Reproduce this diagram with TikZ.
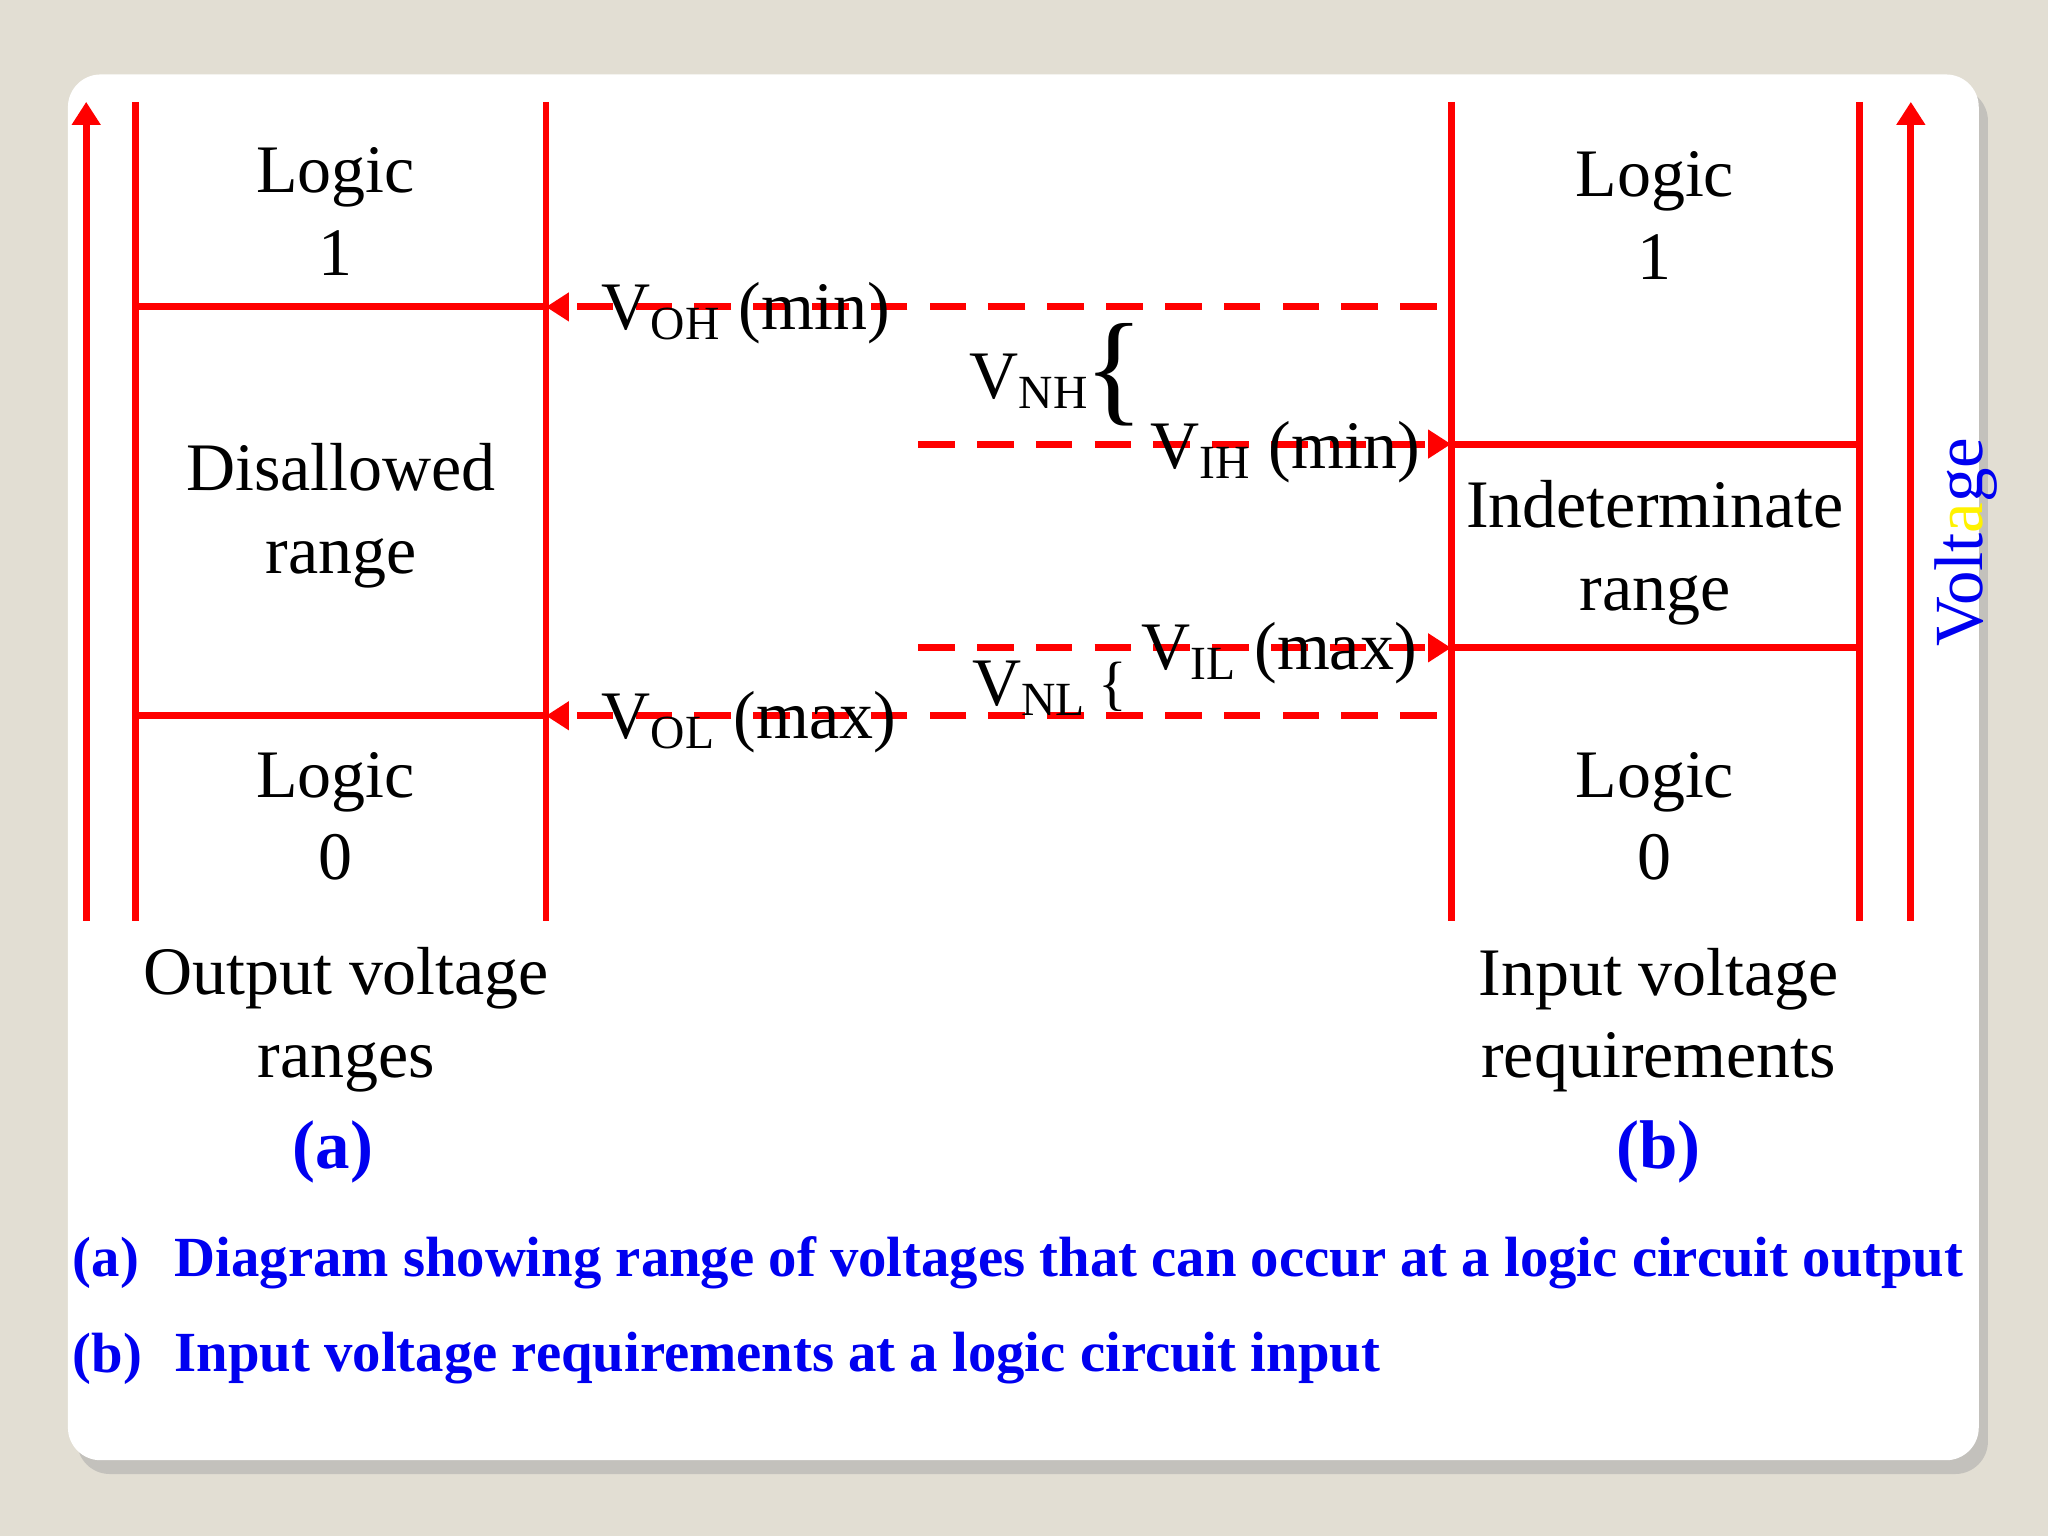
\documentclass[tikz,border=0pt]{standalone}
\usepackage{fontspec}
\setmainfont{Liberation Serif}
\usetikzlibrary{arrows.meta,shadows}
\definecolor{bg}{HTML}{E2DED3}
\definecolor{rd}{HTML}{FF0000}
\definecolor{bl}{HTML}{0000F0}
\tikzset{
 ln/.style={rd,line width=1.5pt},
 dl/.style={rd,line width=1.5pt,dash pattern=on 0.28cm off 0.17cm},
 tip/.style={-{Triangle[length=5pt,width=6pt]}},
 lbl/.style={font=\fontsize{14.8}{18}\selectfont,align=center,inner sep=0pt},
 captxt/.style={font=\fontsize{12.35}{14}\selectfont\bfseries,text=bl,anchor=west,inner sep=0pt}
}
\begin{document}
\begin{tikzpicture}[x=0.01cm,y=-0.01cm]
\fill[bg] (0,0) rectangle (1568,1176);
\useasboundingbox (0,0) rectangle (1568,1176);
\fill[white,rounded corners=0.25cm,drop shadow={shadow xshift=2pt,shadow yshift=-3pt,fill=black!35}] (52,57) rectangle (1515,1118);
% verticals
\coordinate (la0) at (66,705); \coordinate (la1) at (66,78);
\coordinate (ra0) at (1463,705); \coordinate (ra1) at (1463,78);
\draw[ln,tip] (la0) -- (la1);
\draw[ln,tip] (ra0) -- (ra1);
\draw[ln] (104,78) -- (104,705);
\draw[ln] (418,78) -- (418,705);
\draw[ln] (1111,78) -- (1111,705);
\draw[ln] (1424,78) -- (1424,705);
\draw[ln] (104,235) -- (418,235);
\draw[ln] (104,548) -- (418,548);
\draw[ln] (1111,340) -- (1424,340);
\draw[ln] (1111,496) -- (1424,496);
% dashed
\coordinate (d1a) at (1100,235); \coordinate (d1b) at (418,235);
\coordinate (d2a) at (1100,548); \coordinate (d2b) at (418,548);
\coordinate (d3a) at (703,340); \coordinate (d3b) at (1111,340);
\coordinate (d4a) at (703,496); \coordinate (d4b) at (1111,496);
\draw[dl,tip] (d1a) -- (d1b);
\draw[dl,tip] (d2a) -- (d2b);
\draw[dl,tip] (d3a) -- (d3b);
\draw[dl,tip] (d4a) -- (d4b);
% texts
\node[lbl] (l1) at (257,162) {Logic\\1};
\node[lbl] (dr) at (261,395) {Disallowed\\range};
\node[lbl] (l0) at (257,625) {Logic\\0};
\node[lbl] (r1) at (1267,165) {Logic\\1};
\node[lbl] (ir) at (1267,423) {Indeterminate\\range};
\node[lbl] (r0) at (1267,625) {Logic\\0};
\node[lbl] (ovr) at (265,781) {Output voltage\\ranges};
\node[lbl] (ivr) at (1270,781) {Input voltage\\requirements};
\node[lbl,font=\fontsize{15}{18}\selectfont\bfseries,text=bl] (a) at (255,882) {(a)};
\node[lbl,font=\fontsize{15}{18}\selectfont\bfseries,text=bl] (b) at (1270,882) {(b)};
\node[lbl,anchor=west] (voh) at (460,240) {V\textsubscript{OH} (min)};
\node[lbl,anchor=west] (vol) at (460,553) {V\textsubscript{OL} (max)};
\node[lbl,anchor=west] (vih) at (880,346) {V\textsubscript{IH} (min)};
\node[lbl,anchor=west] (vil) at (873,500) {V\textsubscript{IL} (max)};
\node[lbl,anchor=east] (vnh) at (835,292) {V\textsubscript{NH}};
\node[lbl,anchor=east] (vnl) at (833,527) {V\textsubscript{NL}};
\node[lbl,font=\fontsize{27}{27}\selectfont] (bh) at (853,287) {\{};
\node[lbl,font=\fontsize{13}{13}\selectfont] (bl2) at (852,526) {\{};
\node[lbl,rotate=90,font=\fontsize{15}{18}\selectfont] (volt) at (1505,415) {\textcolor{bl}{Volt}\textcolor{yellow}{a}\textcolor{bl}{ge}};
% captions
\node[captxt] (ca) at (55,967) {(a)};
\node[captxt] (cat) at (133,967) {Diagram showing range of voltages that can occur at a logic circuit output};
\node[captxt] (cb) at (55,1040) {(b)};
\node[captxt] (cbt) at (133,1040) {Input voltage requirements at a logic circuit input};
\end{tikzpicture}
\end{document}
